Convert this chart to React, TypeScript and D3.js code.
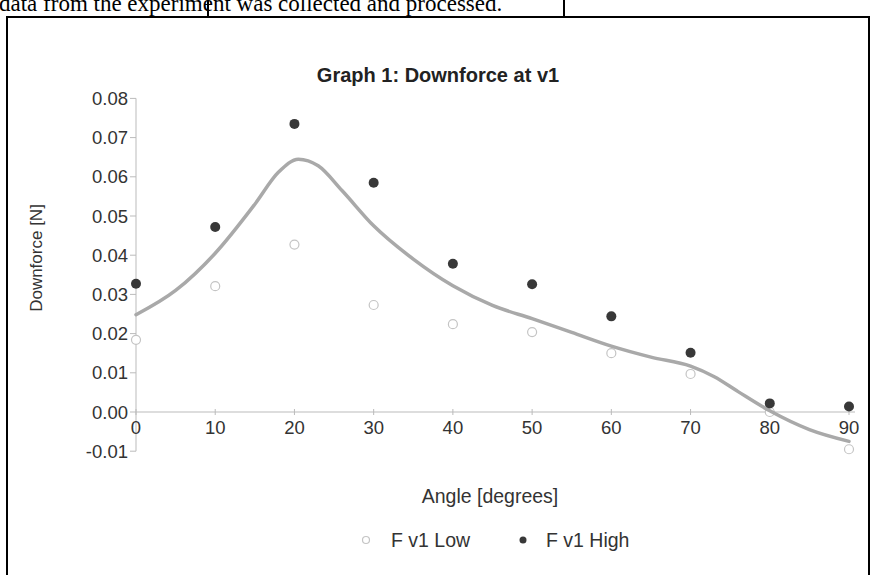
import React from "react";
import * as d3 from "d3";

const angles = [0, 10, 20, 30, 40, 50, 60, 70, 80, 90];
const highValues = [0.0327, 0.0472, 0.0735, 0.0585, 0.0378, 0.0326, 0.0244, 0.0151, 0.0022, 0.0014];
const lowValues = [0.0184, 0.0321, 0.0427, 0.0273, 0.0224, 0.0204, 0.015, 0.0097, 0.0, -0.0095];
const trendAngles = [0, 5, 10, 15, 18, 20.5, 23, 26, 30, 35, 40, 45, 50, 55, 60, 65, 70, 73, 76, 80, 85, 90];
const trendValues = [0.0248, 0.031, 0.0405, 0.053, 0.0612, 0.0645, 0.0628, 0.0565, 0.0475, 0.039, 0.0322, 0.0272, 0.0238, 0.0203, 0.0168, 0.014, 0.0117, 0.009, 0.0052, 0.0003, -0.0045, -0.0075];
const yTicks = [0.08, 0.07, 0.06, 0.05, 0.04, 0.03, 0.02, 0.01, 0.0, -0.01];
const xTicks = [0, 10, 20, 30, 40, 50, 60, 70, 80, 90];
const title = "Graph 1: Downforce at v1";
const xTitle = "Angle [degrees]";
const yTitle = "Downforce [N]";
const seriesNames = ["F v1 Low", "F v1 High"];
const headerText = "data from the experiment was collected and processed.";

export default function App() {
  const W = 872, H = 575;
  const x = d3.scaleLinear().domain([0, 90]).range([136, 849]);
  const y = d3.scaleLinear().domain([-0.01, 0.08]).range([451.2, 98.4]);
  const line = d3
    .line<number>()
    .x((_, i) => x(trendAngles[i]))
    .y((d) => y(d))
    .curve(d3.curveMonotoneX);
  const font = "'Liberation Sans', Arial, sans-serif";
  const fmt = (t: number) => d3.format(".2f")(t).replace("\u2212", "-");
  return (
    <svg width={W} height={H} style={{ position: "absolute", left: 0, top: 0, background: "#fff" }}>
      <rect x={0} y={0} width={W} height={H} fill="#fff" />
      <text x={-1} y={11} fontFamily="'Liberation Serif', 'Times New Roman', serif" fontSize={23} fill="#000">
        {headerText}
      </text>
      <line x1={208} x2={208} y1={0} y2={17} stroke="#000" strokeWidth={2} />
      <line x1={564} x2={564} y1={0} y2={17} stroke="#000" strokeWidth={2} />
      <rect x={7} y={17} width={862} height={600} fill="none" stroke="#000" strokeWidth={2} />
      <text x={438} y={82} textAnchor="middle" fontFamily={font} fontWeight="bold" fontSize={20} fill="#222">
        {title}
      </text>
      {/* y axis */}
      <line x1={x(0)} x2={x(0)} y1={y(0.08)} y2={y(-0.01)} stroke="#bbb" strokeWidth={1} />
      {yTicks.map((t) => (
        <g key={"y" + t}>
          <line x1={x(0) - 6} x2={x(0)} y1={y(t)} y2={y(t)} stroke="#bbb" />
          <text x={x(0) - 8} y={y(t) + 6.5} textAnchor="end" fontFamily={font} fontSize={18.5} fill="#333">
            {fmt(t)}
          </text>
        </g>
      ))}
      {/* x axis */}
      <line x1={x(0)} x2={x(90) + 6} y1={y(0)} y2={y(0)} stroke="#bbb" strokeWidth={1.2} />
      {xTicks.map((t) => (
        <g key={"x" + t}>
          <line x1={x(t)} x2={x(t)} y1={y(0) - 3} y2={y(0) + 3} stroke="#bbb" />
          <text x={x(t)} y={y(0) + 22} textAnchor="middle" fontFamily={font} fontSize={18.5} fill="#333">
            {t}
          </text>
        </g>
      ))}
      <text
        transform={`translate(42,${258}) rotate(-90)`}
        textAnchor="middle"
        fontFamily={font}
        fontSize={17}
        fill="#333"
      >
        {yTitle}
      </text>
      <text x={490} y={503} textAnchor="middle" fontFamily={font} fontSize={19.5} fill="#333">
        {xTitle}
      </text>
      {/* low markers */}
      {lowValues.map((v, i) => (
        <circle key={"l" + i} cx={x(angles[i])} cy={y(v)} r={4.5} fill="#fff" stroke="#c4c4c4" strokeWidth={1.2} />
      ))}
      {/* trend */}
      <path d={line(trendValues) || ""} fill="none" stroke="#a9a9a9" strokeWidth={3.5} strokeLinecap="round" />
      {/* high markers */}
      {highValues.map((v, i) => (
        <circle key={"h" + i} cx={x(angles[i])} cy={y(v)} r={5} fill="#383838" />
      ))}
      {/* legend */}
      <circle cx={366} cy={540} r={3.5} fill="#fff" stroke="#c4c4c4" strokeWidth={1.2} />
      <text x={391} y={547} fontFamily={font} fontSize={19.5} fill="#333">
        {seriesNames[0]}
      </text>
      <circle cx={523} cy={540} r={3.5} fill="#383838" />
      <text x={546} y={547} fontFamily={font} fontSize={19.5} fill="#333">
        {seriesNames[1]}
      </text>
    </svg>
  );
}
